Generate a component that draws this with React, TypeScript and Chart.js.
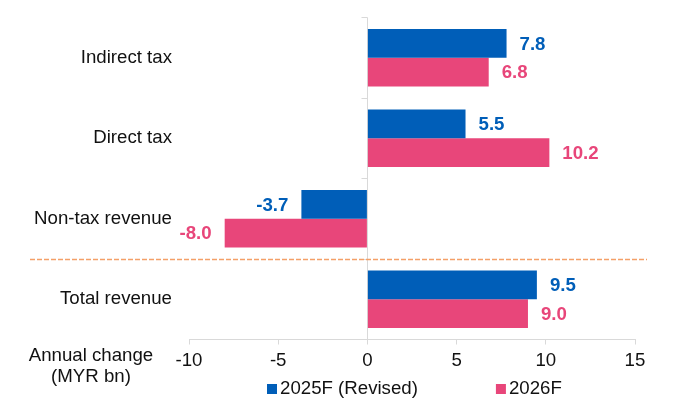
import React, { useEffect, useRef } from "react";
import { Chart, registerables } from "chart.js";

Chart.register(...registerables);

const categories = ["Indirect tax", "Direct tax", "Non-tax revenue", "Total revenue"];
const series2025 = [7.8, 5.5, -3.7, 9.5];
const series2026 = [6.8, 10.2, -8.0, 9.0];
const seriesNames = ["2025F (Revised)", "2026F"];
const xMin = -10;
const xMax = 15;
const xStep = 5;
const axisTitle = ["Annual change", "(MYR bn)"];

const BLUE = "#005EB8";
const PINK = "#E8467A";
const GRID = "#D9D9D9";
const TEXT = "#111111";
const DASH = "#F4A068";
const FONT = '"Liberation Sans", Arial, Helvetica, sans-serif';
const SIZE = 18.67;

const decorPlugin = {
  id: "decor",
  beforeDatasetsDraw(chart: any) {
    const { ctx, chartArea, scales } = chart;
    const xs = scales.x;
    const ys = scales.y;
    const x0 = Math.floor(xs.getPixelForValue(0)) + 0.5;
    ctx.save();
    ctx.strokeStyle = GRID;
    ctx.lineWidth = 1;
    ctx.beginPath();
    ctx.moveTo(x0, chartArea.top);
    ctx.lineTo(x0, chartArea.bottom);
    const n = categories.length;
    for (let i = 0; i <= n; i++) {
      let y: number;
      if (i === 0) y = chartArea.top;
      else if (i === n) y = chartArea.bottom;
      else y = (ys.getPixelForValue(i - 1) + ys.getPixelForValue(i)) / 2;
      y = Math.floor(y) + 0.5;
      ctx.moveTo(x0 - 6, y);
      ctx.lineTo(x0, y);
    }
    ctx.stroke();
    // dashed separator before the total
    const yd = Math.floor((ys.getPixelForValue(n - 2) + ys.getPixelForValue(n - 1)) / 2) + 0.5;
    ctx.strokeStyle = DASH;
    ctx.lineWidth = 1.5;
    ctx.setLineDash([5, 2]);
    ctx.beginPath();
    ctx.moveTo(30, yd);
    ctx.lineTo(chartArea.right + 12, yd);
    ctx.stroke();
    ctx.restore();
  },
  afterDatasetsDraw(chart: any) {
    const { ctx } = chart;
    ctx.save();
    ctx.font = `bold ${SIZE}px ${FONT}`;
    ctx.textBaseline = "middle";
    chart.data.datasets.forEach((ds: any, i: number) => {
      const meta = chart.getDatasetMeta(i);
      ctx.fillStyle = ds.backgroundColor;
      meta.data.forEach((bar: any, j: number) => {
        const v = ds.data[j];
        const off = 13;
        if (v >= 0) {
          ctx.textAlign = "left";
          ctx.fillText(v.toFixed(1), bar.x + off, bar.y + 1);
        } else {
          ctx.textAlign = "right";
          ctx.fillText(v.toFixed(1), bar.x - off, bar.y + 1);
        }
      });
    });
    ctx.restore();
  },
  afterDraw(chart: any) {
    const { ctx } = chart;
    ctx.save();
    ctx.font = `${SIZE}px ${FONT}`;
    ctx.fillStyle = TEXT;
    ctx.textBaseline = "middle";
    ctx.textAlign = "center";
    ctx.fillText(axisTitle[0], 91, 356);
    ctx.fillText(axisTitle[1], 91, 376.5);
    // legend
    const colors = [BLUE, PINK];
    let x = 267;
    const yc = 389;
    ctx.textAlign = "left";
    seriesNames.forEach((name, i) => {
      ctx.fillStyle = colors[i];
      ctx.fillRect(x, yc - 5, 10, 10);
      ctx.fillStyle = TEXT;
      ctx.fillText(name, x + 13, yc);
      x += 13 + ctx.measureText(name).width + 78;
    });
    ctx.restore();
  },
};

function noPad(scale: any) {
  scale.paddingTop = 0;
  scale.paddingBottom = 0;
  scale.paddingLeft = 0;
  scale.paddingRight = 0;
}

export default function App() {
  const ref = useRef<HTMLCanvasElement | null>(null);
  useEffect(() => {
    if (!ref.current) return;
    const chart = new Chart(ref.current, {
      type: "bar",
      data: {
        labels: categories,
        datasets: [
          {
            label: seriesNames[0],
            data: series2025,
            backgroundColor: BLUE,
            borderWidth: 0,
            barPercentage: 1,
            categoryPercentage: 0.713,
          },
          {
            label: seriesNames[1],
            data: series2026,
            backgroundColor: PINK,
            borderWidth: 0,
            barPercentage: 1,
            categoryPercentage: 0.713,
          },
        ],
      },
      options: {
        indexAxis: "y",
        responsive: false,
        animation: false,
        layout: { padding: { left: 0, right: 41, top: 17.5, bottom: 0 } },
        plugins: {
          legend: { display: false },
          tooltip: { enabled: false },
        },
        scales: {
          x: {
            min: xMin,
            max: xMax,
            ticks: {
              stepSize: xStep,
              color: TEXT,
              font: { family: FONT, size: SIZE },
              padding: 5,
              maxRotation: 0,
            },
            grid: {
              drawOnChartArea: false,
              drawTicks: true,
              tickLength: 5,
              color: GRID,
            },
            border: { display: true, color: GRID },
            afterFit(scale: any) {
              scale.height = 66.5;
              noPad(scale);
            },
          },
          y: {
            ticks: {
              color: TEXT,
              font: { family: FONT, size: SIZE },
              padding: 17,
            },
            grid: { display: false, drawTicks: false },
            border: { display: false },
            afterFit(scale: any) {
              scale.width = 189;
              noPad(scale);
            },
          },
        },
      },
      plugins: [decorPlugin],
    });
    return () => chart.destroy();
  }, []);
  return (
    <div style={{ position: "fixed", left: 0, top: 0, width: 676, height: 406, background: "#fff" }}>
      <canvas ref={ref} width={676} height={406} />
    </div>
  );
}
